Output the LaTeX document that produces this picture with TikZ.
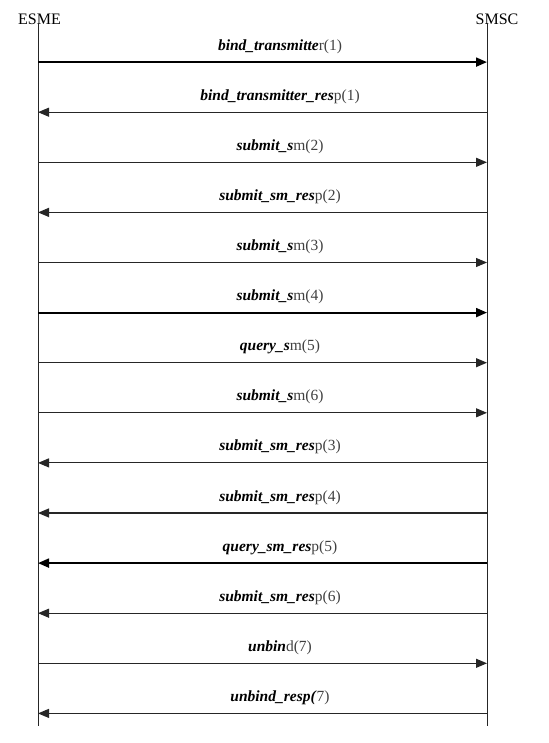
\documentclass[tikz,border=0pt]{standalone}
\usepackage{fontspec}
\setmainfont{Liberation Serif}
\usepackage{tikz}
\usetikzlibrary{arrows.meta}

\tikzset{
  lifeline/.style={draw=black!85, line width=1pt},
  msg/.style={draw=black!85, line width=1.1pt, -{Triangle[length=11pt,width=9pt]}},
  heavy/.style={line width=2pt, draw=black},
  msglabel/.style={font=\fontsize{15.5}{18}\selectfont, inner sep=0pt, anchor=base}
}
\newcommand{\msgtext}[2]{\textbf{\textit{#1}}\textcolor{black!75}{#2}}

\begin{document}
\begin{tikzpicture}[x=1pt, y=-1pt]
  \useasboundingbox (0,0) rectangle (548,743);
  \node[font=\fontsize{16}{19}\selectfont, inner sep=0pt] (esme) at (39.5,19) {ESME};
  \node[font=\fontsize{16}{19}\selectfont, inner sep=0pt] (smsc) at (497,19) {SMSC};
  \coordinate (esmetop) at (38,23);
  \coordinate (esmebot) at (38,726);
  \coordinate (smsctop) at (487,23);
  \coordinate (smscbot) at (487,726);
  \draw[lifeline] (esmetop) -- (esmebot);
  \draw[lifeline] (smsctop) -- (smscbot);
  \foreach \i/\dir/\bold/\rest/\w in {
      1/r/bind\_transmitte/r(1)/heavy,
      2/l/bind\_transmitter\_res/p(1)/,
      3/r/submit\_s/m(2)/,
      4/l/submit\_sm\_res/p(2)/,
      5/r/submit\_s/m(3)/,
      6/r/submit\_s/m(4)/heavy,
      7/r/query\_s/m(5)/,
      8/r/submit\_s/m(6)/,
      9/l/submit\_sm\_res/p(3)/,
      10/l/submit\_sm\_res/p(4)/,
      11/l/query\_sm\_res/p(5)/heavy,
      12/l/submit\_sm\_res/p(6)/,
      13/r/unbin/d(7)/,
      14/l/unbind\_resp(/7)/}
  {
    \coordinate (l\i) at (38,{12+50.1*\i});
    \coordinate (r\i) at (487,{12+50.1*\i});
    \node[msglabel] (lab\i) at (280,{12+50.1*\i-12}) {\msgtext{\bold}{\rest}};
    \if\dir r
      \draw[msg,\w] (l\i) -- (r\i);
    \else
      \draw[msg,\w] (r\i) -- (l\i);
    \fi
  }
\end{tikzpicture}
\end{document}
